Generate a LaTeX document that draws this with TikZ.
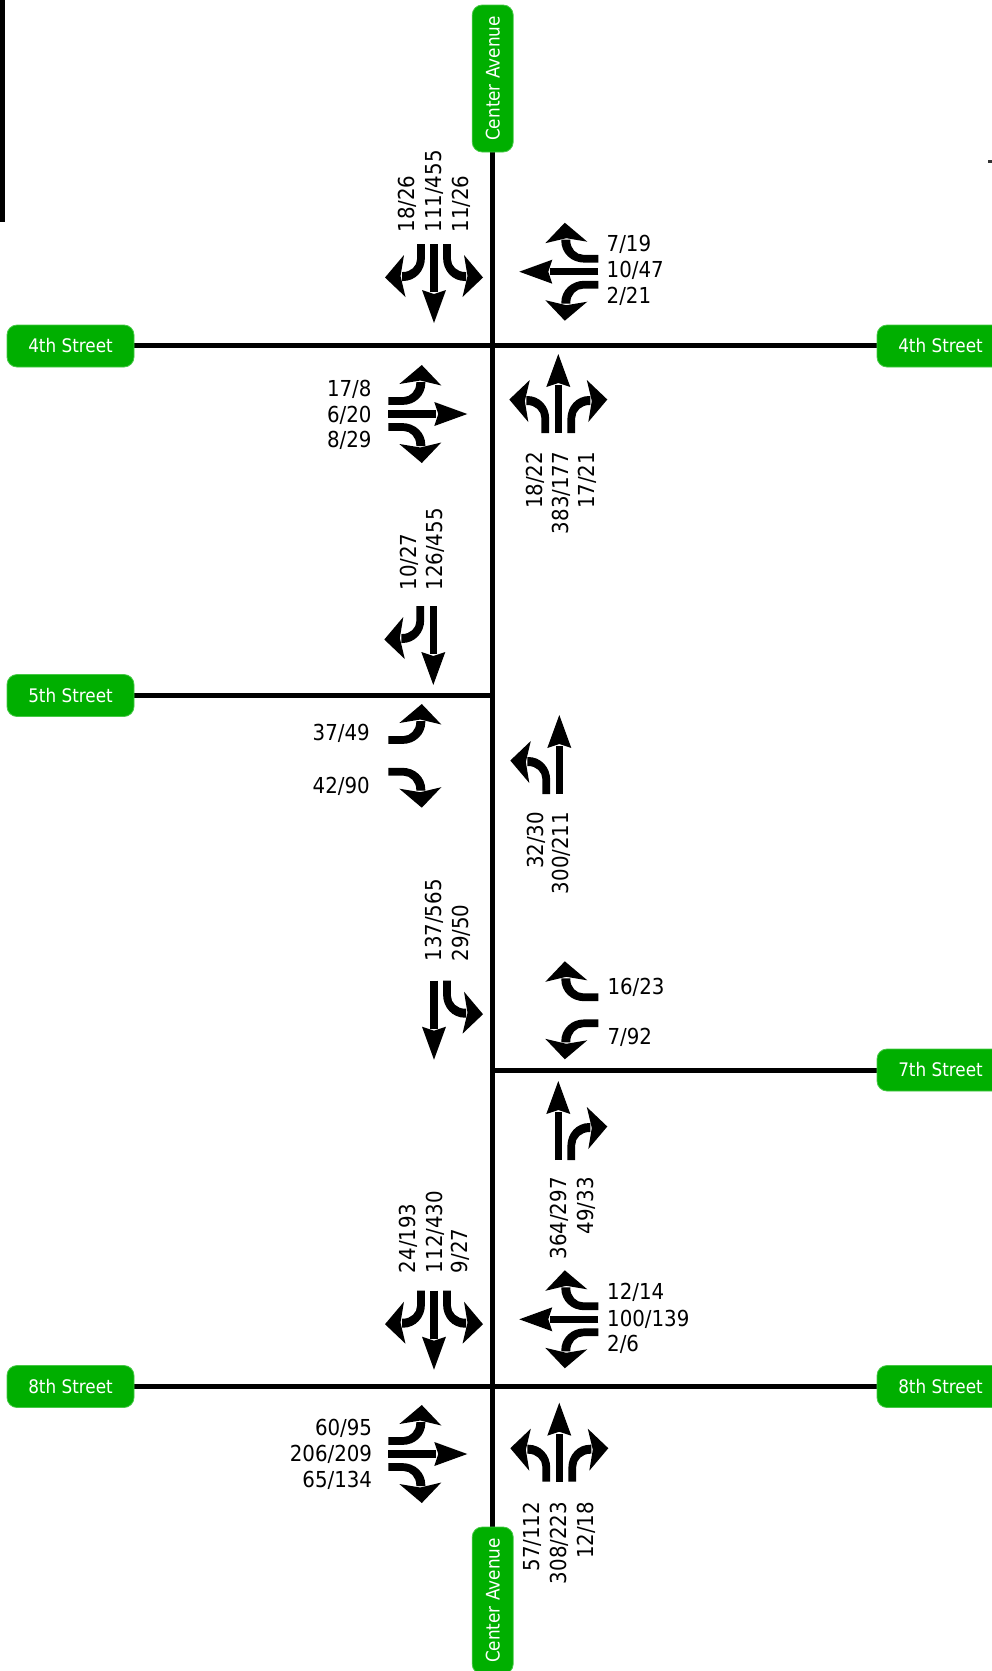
\documentclass[tikz,border=0pt]{standalone}
\usepackage{fontspec}
\newfontfamily\numfont{DejaVu Sans}[FakeStretch=0.9]
\definecolor{avgreen}{RGB}{0,175,0}
\definecolor{avlight}{RGB}{70,200,70}
\newcommand{\curlshape}{%
  \fill (-16.9,0) -- (-9.1,0) -- (-9.1,14) .. controls (-9.1,26.7) and (-18.4,37) .. (-31,37) -- (-32,37)
        -- (-32,28) -- (-31,28) .. controls (-23.2,28) and (-16.9,22.2) .. (-16.9,15) -- cycle;
  \fill (-49,33.5) -- (-30,11) -- (-33.5,32) -- (-28.5,53) -- cycle;}
\begin{document}
\begin{tikzpicture}[x=1pt,y=-1pt,
  road/.style={line width=5pt, black},
  sbox/.style={fill=avgreen, draw=avlight, line width=0.8pt, rounded corners=10pt, inner sep=0pt, text=white},
  stxt/.style={font=\numfont\fontsize{18.7}{20}\selectfont},
  atxt/.style={font=\numfont\fontsize{18.7}{20}\selectfont},
  lanearrow/.style={line width=7.3pt, black},
  lbl/.style={inner sep=0pt, font=\numfont\fontsize{22}{26}\selectfont, text height=16pt, text depth=0pt},
  straightarrow/.pic={
    \draw[lanearrow] (0,0) -- (0,48);
    \fill (0,79) -- (-12,46) -- (0,50) -- (12,46) -- cycle;},
  rightcurl/.pic={\curlshape},
  leftcurl/.pic={\begin{scope}[xscale=-1]\curlshape\end{scope}},
]
\useasboundingbox (0,0) rectangle (992,1671);

% stray marks at the edges
\fill[black] (0,0) rectangle (4.7,222);
\fill[black!80] (988,160) rectangle (992,162.5);

% roads
\coordinate (avN) at (492.7,80);
\coordinate (avS) at (492.7,1600);
\coordinate (w4) at (70,345.5);  \coordinate (e4) at (940,345.5);
\coordinate (w5) at (70,695.5);  \coordinate (c5) at (492.7,695.5);
\coordinate (c7) at (492.7,1070); \coordinate (e7) at (940,1070);
\coordinate (w8) at (70,1386.5); \coordinate (e8) at (940,1386.5);
\draw[road] (avN) -- (avS);
\draw[road] (w4) -- (e4);
\draw[road] (w5) -- (c5);
\draw[road] (c7) -- (e7);
\draw[road] (w8) -- (e8);

% street name boxes
\node[sbox, stxt, minimum width=127pt, minimum height=42pt] (s4w) at (70.5,346) {4th Street};
\node[sbox, stxt, minimum width=127pt, minimum height=42pt] (s4e) at (940.5,346) {4th Street};
\node[sbox, stxt, minimum width=127pt, minimum height=42pt] (s5w) at (70.5,695.5) {5th Street};
\node[sbox, stxt, minimum width=127pt, minimum height=42pt] (s7e) at (940.5,1070) {7th Street};
\node[sbox, stxt, minimum width=127pt, minimum height=42pt] (s8w) at (70.5,1386.5) {8th Street};
\node[sbox, stxt, minimum width=127pt, minimum height=42pt] (s8e) at (940.5,1386.5) {8th Street};
\node[sbox, atxt, rotate=90, minimum width=147pt, minimum height=41pt] (avt) at (492.7,78.5) {Center Avenue};
\node[sbox, atxt, rotate=90, minimum width=147pt, minimum height=41pt] (avb) at (492.7,1600.5) {Center Avenue};

% ---------- 4th Street ----------
\pic at (434,244) {rightcurl}; \pic at (434,244) {straightarrow}; \pic at (434,244) {leftcurl};
\pic[rotate=-90] at (598.3,271.7) {rightcurl}; \pic[rotate=-90] at (598.3,271.7) {straightarrow}; \pic[rotate=-90] at (598.3,271.7) {leftcurl};
\pic[rotate=90] at (388.3,414) {rightcurl}; \pic[rotate=90] at (388.3,414) {straightarrow}; \pic[rotate=90] at (388.3,414) {leftcurl};
\pic[rotate=180] at (558.3,433) {rightcurl}; \pic[rotate=180] at (558.3,433) {straightarrow}; \pic[rotate=180] at (558.3,433) {leftcurl};

\node[lbl, rotate=90, anchor=west] (a1) at (406.7,232.7) {18/26};
\node[lbl, rotate=90, anchor=west] (a2) at (433.3,232.7) {111/455};
\node[lbl, rotate=90, anchor=west] (a3) at (460,232.7) {11/26};
\node[lbl, anchor=west] (b1) at (606.5,243.5) {7/19};
\node[lbl, anchor=west] (b2) at (606.5,269.5) {10/47};
\node[lbl, anchor=west] (b3) at (606.5,295) {2/21};
\node[lbl, anchor=east] (c1) at (371.7,388.3) {17/8};
\node[lbl, anchor=east] (c2) at (371.7,414) {6/20};
\node[lbl, anchor=east] (c3) at (371.7,439.5) {8/29};
\node[lbl, rotate=90, anchor=east] (d1) at (534.3,451.7) {18/22};
\node[lbl, rotate=90, anchor=east] (d2) at (560,451.7) {383/177};
\node[lbl, rotate=90, anchor=east] (d3) at (586,451.7) {17/21};

% ---------- 5th Street ----------
\pic at (433.3,606) {rightcurl}; \pic at (433.3,606) {straightarrow};
\pic[rotate=90] at (388.3,753) {leftcurl};
\pic[rotate=90] at (388.3,758.7) {rightcurl};
\pic[rotate=180] at (559.3,794) {leftcurl}; \pic[rotate=180] at (559.3,794) {straightarrow};

\node[lbl, rotate=90, anchor=west] (e1) at (408.3,590.7) {10/27};
\node[lbl, rotate=90, anchor=west] (e2) at (434.3,590.7) {126/455};
\node[lbl, anchor=east] (f1) at (370,732.7) {37/49};
\node[lbl, anchor=east] (f2) at (370,785) {42/90};
\node[lbl, rotate=90, anchor=east] (g1) at (535,811.7) {32/30};
\node[lbl, rotate=90, anchor=east] (g2) at (560,811.7) {300/211};

% ---------- 7th Street ----------
\pic at (434,980.7) {straightarrow}; \pic at (434,980.7) {leftcurl};
\pic[rotate=-90] at (598.3,1010.3) {rightcurl}; \pic[rotate=-90] at (598.3,1010.3) {leftcurl};
\pic[rotate=180] at (558.3,1160) {straightarrow}; \pic[rotate=180] at (558.3,1160) {rightcurl};

\node[lbl, rotate=90, anchor=west] (h1) at (433.3,961.7) {137/565};
\node[lbl, rotate=90, anchor=west] (h2) at (460,961.7) {29/50};
\node[lbl, anchor=west] (i1) at (607.3,986.7) {16/23};
\node[lbl, anchor=west] (i2) at (607.3,1036.7) {7/92};
\node[lbl, rotate=90, anchor=east] (j1) at (558.3,1177) {364/297};
\node[lbl, rotate=90, anchor=east] (j2) at (585,1177) {49/33};

% ---------- 8th Street ----------
\pic at (434,1290.7) {rightcurl}; \pic at (434,1290.7) {straightarrow}; \pic at (434,1290.7) {leftcurl};
\pic[rotate=-90] at (598.3,1319.3) {rightcurl}; \pic[rotate=-90] at (598.3,1319.3) {straightarrow}; \pic[rotate=-90] at (598.3,1319.3) {leftcurl};
\pic[rotate=90] at (388.3,1454) {rightcurl}; \pic[rotate=90] at (388.3,1454) {straightarrow}; \pic[rotate=90] at (388.3,1454) {leftcurl};
\pic[rotate=180] at (559.3,1481.7) {rightcurl}; \pic[rotate=180] at (559.3,1481.7) {straightarrow}; \pic[rotate=180] at (559.3,1481.7) {leftcurl};

\node[lbl, rotate=90, anchor=west] (k1) at (407.7,1273.3) {24/193};
\node[lbl, rotate=90, anchor=west] (k2) at (434,1273.3) {112/430};
\node[lbl, rotate=90, anchor=west] (k3) at (459,1273.3) {9/27};
\node[lbl, anchor=west] (m1) at (607,1291.7) {12/14};
\node[lbl, anchor=west] (m2) at (607,1318.3) {100/139};
\node[lbl, anchor=west] (m3) at (607,1343.3) {2/6};
\node[lbl, anchor=east] (n1) at (372.3,1427.3) {60/95};
\node[lbl, anchor=east] (n2) at (372.3,1453.3) {206/209};
\node[lbl, anchor=east] (n3) at (372.3,1479) {65/134};
\node[lbl, rotate=90, anchor=east] (o1) at (531.7,1501.7) {57/112};
\node[lbl, rotate=90, anchor=east] (o2) at (558.3,1501.7) {308/223};
\node[lbl, rotate=90, anchor=east] (o3) at (585,1501.7) {12/18};
\end{tikzpicture}
\end{document}
